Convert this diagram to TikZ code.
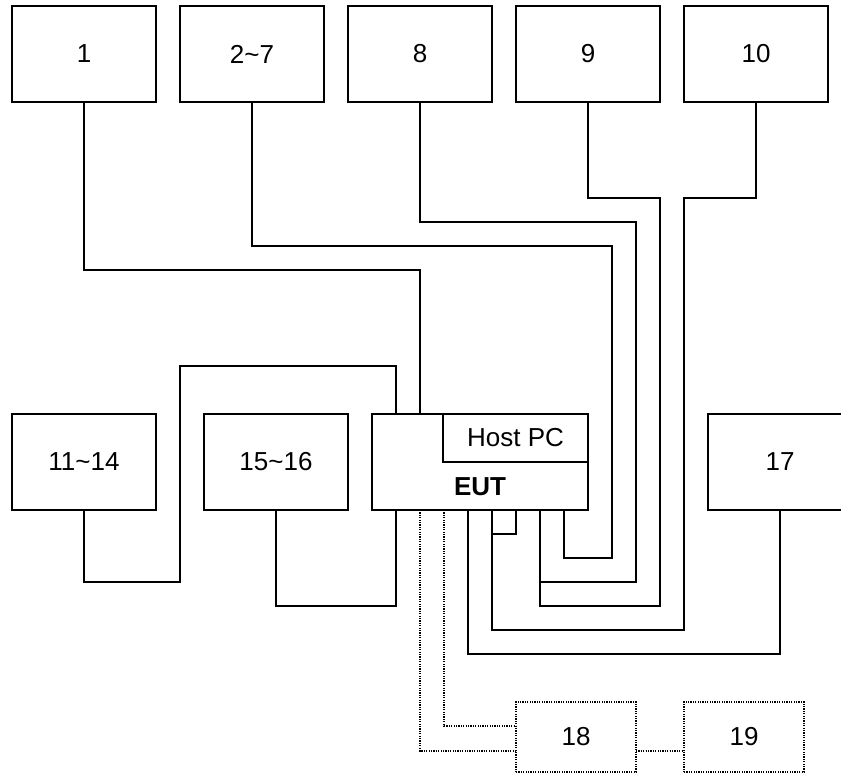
\documentclass[tikz,border=0pt]{standalone}
\usepackage{fontspec}
\setmainfont{Liberation Sans}
\usetikzlibrary{calc}

\begin{document}
\begin{tikzpicture}[x=.5pt, y=-.5pt, line width=.8pt,
        every node/.style={font=\fontsize{13}{15}\selectfont, inner sep=0pt, outer sep=0pt},
        unit/.style={draw, minimum width=72pt, minimum height=48pt},
        extra/.style={draw, line width=.7pt, dash pattern=on .6pt off .6pt, minimum width=60pt, minimum height=35pt},
        opt/.style={line width=.7pt, dash pattern=on .6pt off .6pt}]
        \useasboundingbox (0,0) rectangle (841,774);

        \node[unit] (d1) at (84,54) {1};
        \node[unit] (d27) at (252,54) {2\char`~7};
        \node[unit] (d8) at (420,54) {8};
        \node[unit] (d9) at (588,54) {9};
        \node[unit] (d10) at (756,54) {10};

        \node[unit] (d1114) at (84,462) {11\char`~14};
        \node[unit] (d1516) at (276,462) {15\char`~16};
        \node[unit, minimum width=108pt] (eut) at (480,462) {};
        \node[unit, minimum width=72.5pt, minimum height=24pt] (host) at (515.5,438) {Host PC};
        \node[font=\fontsize{13}{15}\selectfont\bfseries] (euttxt) at (480,487) {EUT};
        \node[unit] (d17) at (780,462) {17};

        \node[extra] (d18) at (576,737) {18};
        \node[extra] (d19) at (744,737) {19};

        \coordinate (t1) at (396,414);
        \coordinate (t2) at (420,414);
        \foreach \p/\x in {1/396,2/420,3/444,4/468,5/492,6/516,7/540,8/564}
                \coordinate (p\p) at (\x,510);

        \draw (d1114.south) |- (180,582) |- (396,366) -- (t1);
        \draw (d1.south) |- (420,270) -- (t2);
        \draw (d27.south) |- (612,246) |- (564,558) -- (p8);
        \draw (d8.south) |- (636,222) |- (540,582) -- (p7);
        \draw (d9.south) |- (660,198) |- (540,606) -- (p7);
        \draw (d10.south) |- (684,198) |- (492,630) -- (p5);
        \draw (d17.south) |- (468,654) -- (p4);
        \draw (d1516.south) |- (396,606) -- (p1);
        \draw (p5) -- ++(0,24) -| (p6);

        \draw[opt] (p2) |- ($(d18.west)+(0,14)$);
        \draw[opt] (p3) |- ($(d18.west)+(0,-11)$);
        \draw[opt] ($(d18.east)+(0,14)$) -- ($(d19.west)+(0,14)$);
\end{tikzpicture}
\end{document}
